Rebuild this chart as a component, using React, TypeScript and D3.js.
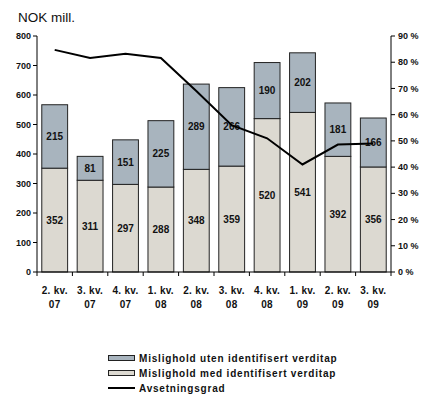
import React from "react";
import * as d3 from "d3";

const categories = ["2. kv.|07", "3. kv.|07", "4. kv.|07", "1. kv.|08", "2. kv.|08", "3. kv.|08", "4. kv.|08", "1. kv.|09", "2. kv.|09", "3. kv.|09"];
const medVerditap = [352, 311, 297, 288, 348, 359, 520, 541, 392, 356];
const utenVerditap = [215, 81, 151, 225, 289, 266, 190, 202, 181, 166];
const avsetningsgrad = [84.7, 81.6, 83.2, 81.6, 69, 56, 51, 41, 48.6, 49];
const leftTicks = [0, 100, 200, 300, 400, 500, 600, 700, 800];
const rightTicks = [0, 10, 20, 30, 40, 50, 60, 70, 80, 90];
const legendLabels = ["Mislighold uten identifisert verditap", "Mislighold med identifisert verditap", "Avsetningsgrad"];

const W = 424, H = 394;
const left = 37, right = 391, top = 36, bottom = 272;
const font = "Liberation Sans, Arial, sans-serif";
const blue = "#A8B4BE";
const beige = "#DCD9D1";

export default function App() {
  const x = d3.scaleBand<string>().domain(categories).range([left, right]).paddingInner(0.27).paddingOuter(0.135);
  const y = d3.scaleLinear().domain([0, 800]).range([bottom, top]);
  const yr = d3.scaleLinear().domain([0, 90]).range([bottom, top]);
  const line = d3.line<number>().x((_, i) => (x(categories[i]) as number) + x.bandwidth() / 2).y(d => yr(d));
  const step = (right - left) / categories.length;
  return (
    <svg width={W} height={H} style={{ position: "absolute", left: 0, top: 0 }} fontFamily={font}>
      <rect width={W} height={H} fill="#fff" />
      <text x={18} y={22} fontSize={13.5} fill="#111">NOK mill.</text>
      {categories.map((c, i) => {
        const bx = x(c) as number;
        const bw = x.bandwidth();
        const m = medVerditap[i], u = utenVerditap[i];
        return (
          <g key={c}>
            <rect x={bx} y={y(m)} width={bw} height={y(0) - y(m)} fill={beige} stroke="#222" strokeWidth={1} />
            <rect x={bx} y={y(m + u)} width={bw} height={y(m) - y(m + u)} fill={blue} stroke="#222" strokeWidth={1} />
            <text x={bx + bw / 2} y={y(m / 2)} dy="0.35em" textAnchor="middle" fontSize={10} fontWeight="bold" fill="#111">{m}</text>
            <text x={bx + bw / 2} y={y(m + u / 2)} dy="0.35em" textAnchor="middle" fontSize={10} fontWeight="bold" fill="#111">{u}</text>
          </g>
        );
      })}
      <path d={line(avsetningsgrad) || ""} fill="none" stroke="#000" strokeWidth={2} />
      {/* left axis */}
      <line x1={left} x2={left} y1={top} y2={bottom} stroke="#000" />
      {leftTicks.map(t => (
        <g key={t}>
          <line x1={left - 4} x2={left} y1={y(t)} y2={y(t)} stroke="#000" />
          <text x={left - 6} y={y(t)} dy="0.35em" textAnchor="end" fontSize={9} fontWeight="bold" fill="#111">{t}</text>
        </g>
      ))}
      {/* right axis */}
      <line x1={right} x2={right} y1={top} y2={bottom} stroke="#000" />
      {rightTicks.map(t => (
        <g key={t}>
          <line x1={right} x2={right + 4} y1={yr(t)} y2={yr(t)} stroke="#000" />
          <text x={right + 7} y={yr(t)} dy="0.35em" textAnchor="start" fontSize={9} fontWeight="bold" fill="#111">{t} %</text>
        </g>
      ))}
      {/* x axis */}
      <line x1={left} x2={right} y1={bottom} y2={bottom} stroke="#000" />
      {d3.range(categories.length + 1).map(i => (
        <line key={i} x1={left + i * step} x2={left + i * step} y1={bottom} y2={bottom + 4} stroke="#000" />
      ))}
      {categories.map(c => {
        const cx = (x(c) as number) + x.bandwidth() / 2;
        const [a, b] = c.split("|");
        return (
          <text key={c} textAnchor="middle" fontSize={10} fontWeight="bold" fill="#111" letterSpacing={0.3}>
            <tspan x={cx} y={294}>{a}</tspan>
            <tspan x={cx} y={308}>{b}</tspan>
          </text>
        );
      })}
      {/* legend */}
      {legendLabels.map((l, i) => {
        const ly = 358 + i * 15;
        return (
          <g key={l}>
            {i < 2 ? (
              <rect x={108.5} y={ly - 2.5} width={26} height={5} fill={i === 0 ? blue : beige} stroke="#222" strokeWidth={1} />
            ) : (
              <line x1={108} x2={135} y1={ly} y2={ly} stroke="#000" strokeWidth={2} />
            )}
            <text x={139} y={ly} dy="0.35em" fontSize={10} fontWeight="bold" fill="#111" letterSpacing={0.8}>{l}</text>
          </g>
        );
      })}
    </svg>
  );
}
